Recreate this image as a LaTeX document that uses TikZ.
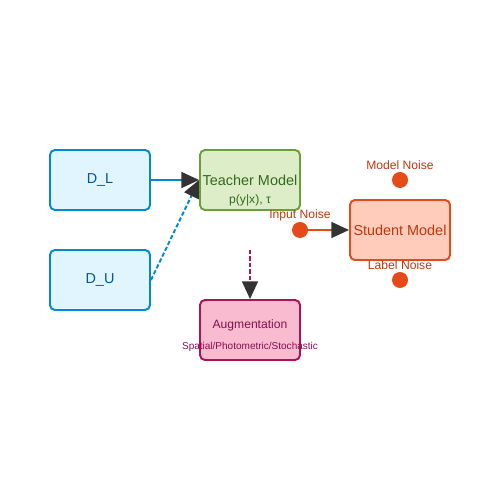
\documentclass[tikz,border=0pt]{standalone}
\usepackage{fontspec}
\setmainfont{Liberation Sans}
\usepackage{tikz}
\usetikzlibrary{arrows.meta}
\usetikzlibrary{shapes}

\definecolor{databorder}{HTML}{0288D1}
\definecolor{datafill}{HTML}{E1F5FE}
\definecolor{datatext}{HTML}{01579B}
\definecolor{teacherborder}{HTML}{689F38}
\definecolor{teacherfill}{HTML}{DCEDC8}
\definecolor{teachertext}{HTML}{33691E}
\definecolor{studentborder}{HTML}{E64A19}
\definecolor{studentfill}{HTML}{FFCCBC}
\definecolor{studenttext}{HTML}{BF360C}
\definecolor{augborder}{HTML}{AD1457}
\definecolor{augfill}{HTML}{F8BBD0}
\definecolor{augtext}{HTML}{880E4F}
\definecolor{tipgray}{HTML}{333333}

\tikzset{
    modelbox/.style={draw, rounded corners=2.8pt, line width=1.1pt,
        minimum width=2cm, minimum height=1.2cm, inner sep=0pt, font=\fontsize{8.2}{9}\selectfont},
    noisedot/.style={circle, fill=studentborder, minimum size=0.32cm, inner sep=0pt},
    noiselabel/.style={text=studenttext, font=\fontsize{6.9}{8}\selectfont, inner sep=0pt},
    flow/.style={line width=1.1pt, -{Triangle[length=10pt, width=9pt, color=tipgray]}},
    dashflow/.style={flow, dash pattern=on 2.4pt off 1.3pt}
}

\begin{document}
\begin{tikzpicture}
        \useasboundingbox (0, 0) rectangle (10, 10);

        \draw (2, 6.4) node[modelbox, draw=databorder, fill=datafill, text=datatext] (DL) {D\_L};
        \draw (2, 4.4) node[modelbox, draw=databorder, fill=datafill, text=datatext] (DU) {D\_U};
        \draw (5, 6.4) node[modelbox, draw=teacherborder, fill=teacherfill, text=teachertext] (T) {Teacher Model};
        \draw (5, 5.99) node[text=teachertext, inner sep=0pt, font=\fontsize{6.9}{8}\selectfont] (Tsub) {p(y|x), τ};
        \draw (8, 5.4) node[modelbox, draw=studentborder, fill=studentfill, text=studenttext] (S) {Student Model};
        \draw (5, 3.4) node[modelbox, draw=augborder, fill=augfill, text=augtext] (A) {};
        \draw (5, 3.49) node[text=augtext, inner sep=0pt, font=\fontsize{6.9}{8}\selectfont] (Atitle) {Augmentation};
        \draw (5, 3.07) node[text=augtext, inner sep=0pt, font=\fontsize{5.7}{7}\selectfont] (Asub) {Spatial/Photometric/Stochastic};

        \draw (8, 6.4) node[noisedot] (MN) {};
        \draw (8, 6.69) node[noiselabel] {Model Noise};
        \draw (6, 5.4) node[noisedot] (IN) {};
        \draw (6, 5.69) node[noiselabel] {Input Noise};
        \draw (8, 4.4) node[noisedot] (LN) {};
        \draw (8, 4.69) node[noiselabel] {Label Noise};

        \coordinate (augin) at (5, 5.0);

        \draw[flow, databorder] (DL) -- (T);
        \draw[dashflow, databorder] (DU.east) -- (T.west);
        \draw[dashflow, augborder] (augin) -- (A);
        \draw[flow, studentborder] (IN) -- (S);
    \end{tikzpicture}
\end{document}
